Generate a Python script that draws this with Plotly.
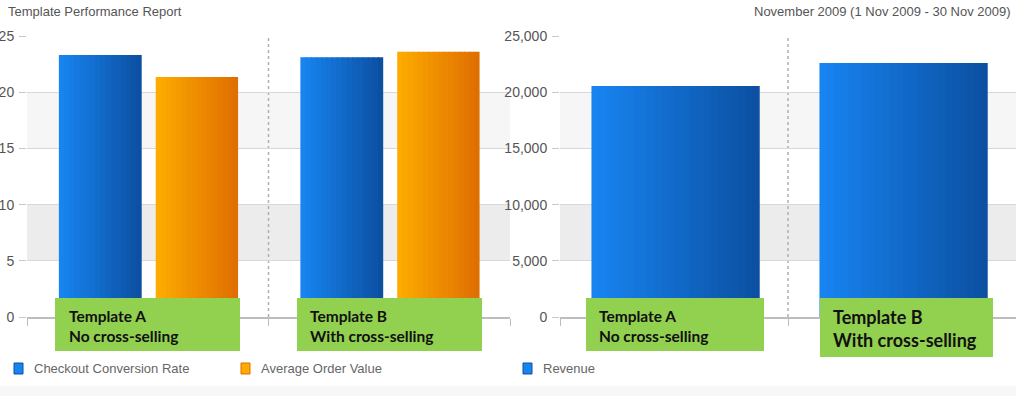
import plotly.graph_objects as go

# ---------------- data ----------------
categories = ["Template A", "Template B"]
conversion_rate = [23.3, 23.1]
avg_order_value = [21.35, 23.6]
revenue = [20550, 22600]
left_ticks = [0, 5, 10, 15, 20, 25]
right_ticks = [0, 5000, 10000, 15000, 20000, 25000]
box_labels = ["Template A<br>No cross-selling", "Template B<br>With cross-selling"]
legend_left = ["Checkout Conversion Rate", "Average Order Value"]
legend_right = ["Revenue"]
title_left = "Template Performance Report"
title_right = "November 2009 (1 Nov 2009 - 30 Nov 2009)"

W, H = 1016, 396


def px(x):
    return x / W


def py(y):
    return 1 - y / H


def lerp(c0, c1, t):
    a = [int(c0[i:i + 2], 16) for i in (1, 3, 5)]
    b = [int(c1[i:i + 2], 16) for i in (1, 3, 5)]
    return "rgb(%d,%d,%d)" % tuple(round(a[k] + (b[k] - a[k]) * t) for k in range(3))


BLUE = ("#1784f0", "#0c50a2")
ORANGE = ("#fdab00", "#df6f00")


def gradient_bars(y, xa, ya, offset, width, cols, n=16):
    out = []
    step = width / n
    for i in range(n):
        t = i / (n - 1)
        w = step * 1.2 if i < n - 1 else step
        out.append(go.Bar(
            x=categories, y=y, xaxis=xa, yaxis=ya,
            offset=offset + i * step, width=w,
            marker=dict(color=lerp(cols[0], cols[1], t), line=dict(width=0)),
            showlegend=False, hoverinfo="skip"))
    return out


fig = go.Figure()
for tr in gradient_bars(conversion_rate, "x", "y", -0.368, 0.343, BLUE):
    fig.add_trace(tr)
for tr in gradient_bars(avg_order_value, "x", "y", 0.033, 0.341, ORANGE):
    fig.add_trace(tr)
for tr in gradient_bars(revenue, "x2", "y2", -0.362, 0.738, BLUE, n=24):
    fig.add_trace(tr)

ydom = [py(317), py(36)]
axis_font = dict(family="Liberation Sans, Arial, sans-serif", size=14, color="#555555")

xcommon = dict(type="category", range=[-0.5, 1.5], showline=True, linecolor="#bdbdbd",
               linewidth=1.5, ticks="outside", tickvals=[-0.5, 0.5, 1.5],
               ticktext=["", "", ""], ticklen=7, tickcolor="#bdbdbd",
               showgrid=False, zeroline=False, fixedrange=True, automargin=False)
ycommon = dict(showline=False, ticks="outside", ticklen=7, tickcolor="#c8c8c8",
               gridcolor="#d8d8d8", gridwidth=1, zeroline=False, tickfont=axis_font,
               ticklabelstandoff=2, automargin=False)

fig.update_layout(
    template="none",
    width=W, height=H, margin=dict(l=0, r=0, t=0, b=0, pad=0, autoexpand=False),
    paper_bgcolor="white", plot_bgcolor="rgba(0,0,0,0)",
    barmode="overlay", showlegend=False,
    xaxis=dict(domain=[px(27), px(510)], anchor="y", **xcommon),
    xaxis2=dict(domain=[px(560), px(1016)], anchor="y2", **xcommon),
    yaxis=dict(domain=ydom, anchor="x", range=[0, 25], tickvals=left_ticks, **ycommon),
    yaxis2=dict(domain=ydom, anchor="x2", range=[0, 25000], tickvals=right_ticks,
                tickformat=",d", **ycommon),
)

shapes = []
# alternating bands
for xr, yr, scale in (("x domain", "y", 1), ("x2 domain", "y2", 1000)):
    shapes.append(dict(type="rect", xref=xr, yref=yr, x0=0, x1=1, y0=15 * scale, y1=20 * scale,
                       fillcolor="#f6f6f6", line=dict(width=0), layer="below"))
    shapes.append(dict(type="rect", xref=xr, yref=yr, x0=0, x1=1, y0=5 * scale, y1=10 * scale,
                       fillcolor="#ececec", line=dict(width=0), layer="below"))
# dotted category separators
shapes.append(dict(type="line", xref="x", yref="y", x0=0.5, x1=0.5, y0=0, y1=25,
                   line=dict(color="#b0b0b0", width=1.5, dash="dot"), layer="below"))
shapes.append(dict(type="line", xref="x2", yref="y2", x0=0.5, x1=0.5, y0=0, y1=25000,
                   line=dict(color="#b0b0b0", width=1.5, dash="dot"), layer="below"))

# green label boxes
boxes = [
    (55, 240, 298, 351, 67, 15.5, box_labels[0]),
    (297, 482, 298, 351, 308, 15.5, box_labels[1]),
    (586, 764, 298, 351, 597, 15.5, box_labels[0]),
    (820, 993, 298, 357, 831, 18, box_labels[1]),
]
annotations = []
for x0, x1, y0, y1, tx, fs, txt in boxes:
    shapes.append(dict(type="rect", xref="paper", yref="paper", x0=px(x0), x1=px(x1),
                       y0=py(y1), y1=py(y0), fillcolor="#92d050", line=dict(width=0),
                       layer="above"))
    annotations.append(dict(xref="paper", yref="paper", x=px(tx), y=py((y0 + y1) / 2 + 1),
                            xanchor="left", yanchor="middle", align="left", showarrow=False,
                            text="<b>" + txt + "</b>",
                            font=dict(family="Lato, Open Sans, sans-serif", size=fs,
                                      color="#111111")))

# legends
legend_items = [
    (14, BLUE, legend_left[0]),
    (241, ORANGE, legend_left[1]),
    (523, BLUE, legend_right[0]),
]
for lx, cols, txt in legend_items:
    shapes.append(dict(type="rect", xref="paper", yref="paper", x0=px(lx), x1=px(lx + 9),
                       y0=py(374), y1=py(363), fillcolor=cols[0],
                       line=dict(color=cols[1], width=1), layer="above"))
    annotations.append(dict(xref="paper", yref="paper", x=px(lx + 18), y=py(368.5),
                            xanchor="left", yanchor="middle", showarrow=False, text=txt,
                            font=dict(family="Liberation Sans, Arial, sans-serif", size=13,
                                      color="#666666")))

# bottom strip
shapes.append(dict(type="rect", xref="paper", yref="paper", x0=0, x1=1, y0=0, y1=py(386),
                   fillcolor="#f7f7f7", line=dict(width=0), layer="below"))

# titles
annotations.append(dict(xref="paper", yref="paper", x=px(6), y=py(12), xanchor="left",
                        yanchor="middle", showarrow=False, text=title_left,
                        font=dict(family="Liberation Sans, Arial, sans-serif", size=13,
                                  color="#555555")))
annotations.append(dict(xref="paper", yref="paper", x=px(1013), y=py(12), xanchor="right",
                        yanchor="middle", showarrow=False, text=title_right,
                        font=dict(family="Liberation Sans, Arial, sans-serif", size=13,
                                  color="#555555")))

fig.update_layout(shapes=shapes, annotations=annotations)

post = (
    "var h=document.documentElement;h.style.margin='0';h.style.padding='0';h.style.overflow='hidden';"
    "document.body.style.margin='0';document.body.style.padding='0';document.body.style.overflow='hidden';"
    "var gd=document.getElementById('{plot_id}');gd.style.position='absolute';"
    "gd.style.top='0px';gd.style.left='0px';gd.style.margin='0';"
)
fig.write_html("out.html", config={"displayModeBar": False}, post_script=post)
